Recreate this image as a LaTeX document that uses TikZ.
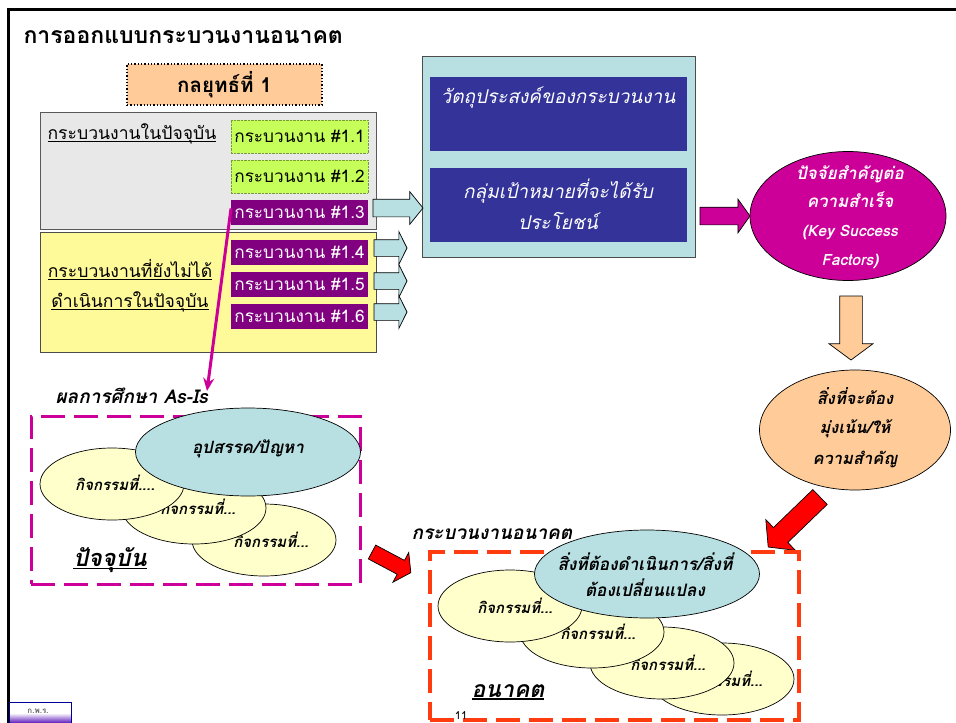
\documentclass[tikz,border=0pt]{standalone}
\usepackage{fontspec}
\setmainfont[Script=Thai]{Loma}
\usetikzlibrary{shapes.geometric, shapes.arrows, arrows.meta}

\definecolor{paleblue}{HTML}{B8E0E3}
\definecolor{navybox}{HTML}{333399}
\definecolor{hotmag}{HTML}{CC0099}
\definecolor{paleyel}{HTML}{FFFFCC}
\definecolor{peach}{HTML}{FFCC99}
\definecolor{limebox}{HTML}{C6FF5A}
\definecolor{purpbox}{HTML}{800080}
\definecolor{futred}{HTML}{FF3C0F}

\newcommand{\thline}[1]{\setbox0\hbox{#1}\rlap{\rule[-2.5pt]{\wd0}{1.3pt}}\box0}

\tikzset{
    recbox/.style={rectangle, inner sep=0pt, outer sep=0pt},
    procgreen/.style={recbox, fill=limebox, draw=limebox!60!black, densely dotted, minimum width=137pt, minimum height=33pt, font=\fontsize{17.2}{18}\selectfont},
    procpurp/.style={recbox, fill=purpbox, text=white, minimum width=137pt, minimum height=25pt, font=\fontsize{17.2}{18}\selectfont},
    bluebox/.style={recbox, fill=navybox, minimum width=257pt, minimum height=74pt},
    bluetext/.style={text=white, align=center, font=\fontsize{19}{20}\itshape\selectfont},
    blockarrow/.style={single arrow, anchor=tail, draw=black, inner xsep=0pt, outer sep=0pt, line width=0.7pt},
    oval/.style={ellipse, draw=black, inner sep=0pt, outer sep=0pt, line width=0.7pt},
    acttext/.style={font=\fontsize{15}{16}\bfseries\itshape\selectfont},
    actoval/.style={oval, fill=paleyel, minimum width=144pt, minimum height=72pt},
    probval/.style={oval, fill=paleblue, minimum width=225pt, minimum height=88pt},
    blackhead/.style={font=\fontsize{19}{20}\bfseries\itshape\selectfont}
}

\begin{document}
\begin{tikzpicture}[x=1pt, y=-1pt]

    \useasboundingbox (0,0) rectangle (956,723);
    \fill[white] (0,0) rectangle (956,723);

    \draw[line width=3pt] (8,723) -- (8,9) -- (956,9);

    \node[anchor=west, font=\fontsize{23}{24}\bfseries\selectfont] (title) at (20,37) {การออกแบบกระบวนงานอนาคต};

    \node[recbox, fill=peach, draw=black, dotted, line width=1.3pt, minimum width=195pt, minimum height=41pt, font=\fontsize{20.5}{22}\bfseries\selectfont] (strat) at (224.5,84.5) {กลยุทธ์ที่ 1};

    \node[recbox, fill=black!9, draw=black!65, line width=1pt, minimum width=336pt, minimum height=117pt] (curbox) at (208,170.5) {};
    \node[recbox, fill=yellow!40!white, draw=black!70, line width=1pt, minimum width=336pt, minimum height=120pt] (futbox) at (208,292) {};

    \node[anchor=west, font=\fontsize{17.6}{19}\selectfont] (curtext) at (44,134) {\thline{กระบวนงานในปัจจุบัน}};
    \node[align=center, font=\fontsize{17.6}{19}\selectfont] (futtext) at (130,286) {\thline{กระบวนงานที่ยังไม่ได้}\\[11pt]\thline{ดำเนินการในปัจจุบัน}};

    \node[procgreen] (p11) at (299.5,136.5) {กระบวนงาน \#1.1};
    \node[procgreen] (p12) at (299.5,176.5) {กระบวนงาน \#1.2};
    \node[procpurp] (p13) at (299.5,212.5) {กระบวนงาน \#1.3};
    \node[procpurp] (p14) at (299.5,252.5) {กระบวนงาน \#1.4};
    \node[procpurp] (p15) at (299.5,284.5) {กระบวนงาน \#1.5};
    \node[procpurp] (p16) at (299.5,316.5) {กระบวนงาน \#1.6};

    \node[recbox, fill=paleblue, draw=black!70, line width=1pt, minimum width=273pt, minimum height=201pt] (goalbox) at (558.5,156.5) {};
    \node[bluebox] (obj) at (558.5,114) {};
    \node[bluebox] (target) at (558.5,205) {};
    \node[bluetext] (objtext) at (558,98) {วัตถุประสงค์ของกระบวนงาน};
    \node[bluetext] (targettext) at (558,204) {กลุ่มเป้าหมายที่จะได้รับ\\[8pt]ประโยชน์};

    \node[blockarrow, fill=paleblue, inner ysep=8.5pt, minimum height=50pt, single arrow head extend=7.5pt, single arrow tip angle=102] (a13) at (373,208) {};
    \node[blockarrow, fill=paleblue, inner ysep=8pt, minimum height=33pt, single arrow head extend=8pt, single arrow tip angle=127] (a14) at (374,248) {};
    \node[blockarrow, fill=paleblue, inner ysep=8pt, minimum height=33pt, single arrow head extend=8pt, single arrow tip angle=127] (a15) at (374,281) {};
    \node[blockarrow, fill=paleblue, inner ysep=8pt, minimum height=33pt, single arrow head extend=8pt, single arrow tip angle=127] (a16) at (374,312) {};

    \node[blockarrow, fill=hotmag, inner ysep=8.5pt, minimum height=50pt, single arrow head extend=8pt, single arrow tip angle=109] (amag) at (700,216) {};
    \node[oval, fill=hotmag, minimum width=196pt, minimum height=129pt] (ksf) at (848,216) {};
    \node[align=center, text=white, font=\fontsize{15.5}{16}\bfseries\itshape\selectfont] (ksftext) at (850,217.5) {{\fontsize{17}{16}\selectfont ปัจจัยสำคัญต่อ}\\[8pt]{\fontsize{17}{16}\selectfont ความสำเร็จ}\\[13pt](Key Success\\[13pt]Factors)};

    \node[blockarrow, fill=peach, rotate=-90, inner ysep=11pt, minimum height=64pt, single arrow head extend=10.5pt, single arrow tip angle=107] (adown) at (851,296) {};
    \node[oval, fill=peach, minimum width=191pt, minimum height=120pt] (focus) at (855,430) {};
    \node[align=center, font=\fontsize{16.5}{17}\bfseries\itshape\selectfont] (focustext) at (855,428) {สิ่งที่จะต้อง\\[12pt]มุ่งเน้น/ให้\\[12pt]ความสำคัญ};

    \node[blockarrow, fill=red, rotate=224, inner ysep=10pt, minimum height=72pt, single arrow head extend=11pt, single arrow tip angle=102] (ared) at (820,497) {};
    \node[blockarrow, fill=red, rotate=-28, inner ysep=7.5pt, minimum height=44pt, single arrow head extend=9pt, single arrow tip angle=112] (acur) at (372,552) {};

    \coordinate (asisend) at (207,391);
    \draw[hotmag, line width=3pt, -{Stealth[length=13pt, width=11pt]}] ([yshift=4pt]p13.west) -- (asisend);

    \node[anchor=west, blackhead] (asis) at (52,396) {ผลการศึกษา As-Is};
    \node[recbox, draw=hotmag, line width=3pt, dash pattern=on 24pt off 9pt, minimum width=329pt, minimum height=168pt] (curdash) at (195.5,500) {};

    \node[actoval] (c3) at (264,540) {};
    \node[acttext] (c3t) at (271,540) {กิจกรรมที่...};
    \node[actoval] (c2) at (194,508) {};
    \node[acttext] (c2t) at (198,507) {กิจกรรมที่...};
    \node[actoval] (c1) at (112,484) {};
    \node[acttext] (c1t) at (115,483) {กิจกรรมที่....};
    \node[probval] (prob) at (248,452) {};
    \node[font=\fontsize{17}{18}\bfseries\itshape\selectfont] (probt) at (248,449) {อุปสรรค/ปัญหา};
    \node[font=\fontsize{23.5}{24}\bfseries\itshape\selectfont] (curname) at (110,560) {\thline{ปัจจุบัน}};

    \node[anchor=west, blackhead] (futhead) at (408,534) {กระบวนงานอนาคต};
    \node[recbox, draw=futred, line width=3.5pt, dash pattern=on 24pt off 9pt, minimum width=369pt, minimum height=168pt] (futdash) at (614.5,636) {};

    \node[actoval] (f4) at (722,679) {};
    \node[acttext] (f4t) at (725,679) {กิจกรรมที่...};
    \node[actoval] (f3) at (662,663) {};
    \node[acttext] (f3t) at (668,663) {กิจกรรมที่...};
    \node[actoval] (f2) at (592,632) {};
    \node[acttext] (f2t) at (598,632) {กิจกรรมที่...};
    \node[actoval] (f1) at (510,606) {};
    \node[acttext] (f1t) at (515,606) {กิจกรรมที่...};
    \node[probval] (todo) at (647,574) {};
    \node[align=center, font=\fontsize{17.2}{18}\bfseries\itshape\selectfont] (todot) at (645,575) {สิ่งที่ต้องดำเนินการ/สิ่งที่\\[8pt]ต้องเปลี่ยนแปลง};
    \node[font=\fontsize{23}{24}\bfseries\itshape\selectfont] (futname) at (508,692) {\thline{อนาคต}};

    \node[font=\fontsize{11}{12}\selectfont] (pageno) at (461,716) {11};

    \node[recbox, draw=blue!60!black, line width=0.8pt, top color=white, bottom color=purpbox!60!blue, middle color=white, minimum width=62pt, minimum height=22pt] (logo) at (40,713) {};
    \node[font=\fontsize{8}{9}\bfseries\selectfont, text=black!60] (logot) at (38,711) {ก.พ.ร.};

\end{tikzpicture}
\end{document}
